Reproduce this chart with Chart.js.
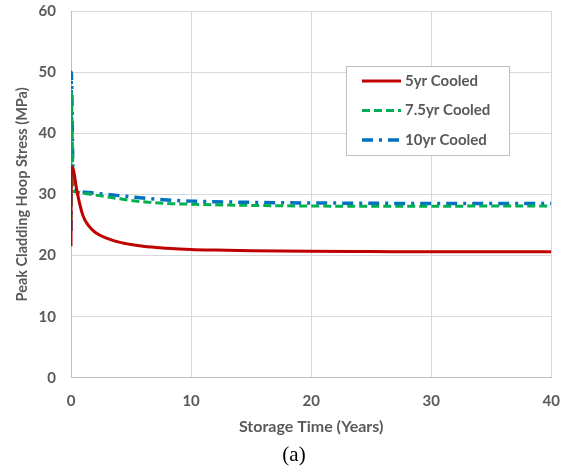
<!DOCTYPE html>
<html>
<head>
<meta charset="utf-8">
<script src="https://cdn.jsdelivr.net/npm/chart.js@4.4.1/dist/chart.umd.min.js"></script>
<style>
  body { margin: 0; background: #fff; }
  #wrap { position: relative; width: 574px; height: 473px; }
</style>
</head>
<body>
<div id="wrap"><canvas id="stress-chart" width="574" height="473"></canvas></div>
<script>
// Storage time (years) shared by all three curves
const timeYears = [0, 0.02, 0.2, 0.5, 1, 1.5, 2, 3, 4, 5, 6, 8, 10, 12, 15, 20, 25, 30, 35, 40];

// Peak cladding hoop stress (MPa)
const cooled5 = [21.5, 34.5, 34.0, 30.5, 26.5, 24.8, 23.8, 22.8, 22.2, 21.8, 21.5, 21.2, 21.0, 20.9, 20.8, 20.7, 20.65, 20.6, 20.6, 20.6];
const cooled75 = [26.0, 47.0, 30.5, 30.4, 30.2, 30.05, 29.9, 29.6, 29.3, 29.0, 28.8, 28.5, 28.4, 28.3, 28.2, 28.1, 28.05, 28.05, 28.1, 28.1];
const cooled10 = [24.0, 50.0, 30.8, 30.6, 30.4, 30.3, 30.2, 30.0, 29.8, 29.6, 29.4, 29.1, 28.9, 28.8, 28.7, 28.6, 28.55, 28.5, 28.5, 28.5];

const seriesLabels = ['5yr Cooled', '7.5yr Cooled', '10yr Cooled'];
const xTicks = [0, 10, 20, 30, 40];
const yTicks = [0, 10, 20, 30, 40, 50, 60];

const textGray = '#595959';
const tickFont = { family: 'Lato', size: 15, weight: 'bold' };

function toPoints(values) {
    return values.map((v, i) => ({ x: timeYears[i], y: v }));
}

// Boxed legend drawn inside the plot, like the original
const boxedLegend = {
    id: 'boxedLegend',
    afterDraw(chart) {
        const ctx = chart.ctx;
        const left = 346, top = 66, width = 163, height = 89;
        ctx.save();
        ctx.fillStyle = '#fff';
        ctx.fillRect(left, top, width, height);
        ctx.strokeStyle = '#bfbfbf';
        ctx.lineWidth = 1;
        ctx.strokeRect(left + 0.5, top + 0.5, width, height);

        chart.data.datasets.forEach((ds, i) => {
            const y = top + 15 + i * 29.5;
            ctx.beginPath();
            ctx.strokeStyle = ds.borderColor;
            ctx.lineWidth = ds.borderWidth;
            ctx.setLineDash(ds.borderDash || []);
            ctx.moveTo(362, y);
            ctx.lineTo(401, y);
            ctx.stroke();
            ctx.setLineDash([]);
            ctx.fillStyle = textGray;
            ctx.font = 'bold 15px Lato';
            ctx.textBaseline = 'middle';
            ctx.fillText(ds.label, 405, y);
        });
        ctx.restore();
    }
};

document.addEventListener('DOMContentLoaded', function() {
    const ctx = document.getElementById('stress-chart').getContext('2d');

    new Chart(ctx, {
        type: 'line',
        data: {
            datasets: [
                {
                    label: seriesLabels[0],
                    data: toPoints(cooled5),
                    borderColor: '#C00000',
                    borderWidth: 3,
                    borderDash: []
                },
                {
                    label: seriesLabels[1],
                    data: toPoints(cooled75),
                    borderColor: '#00B050',
                    borderWidth: 3,
                    borderDash: [8, 4]
                },
                {
                    label: seriesLabels[2],
                    data: toPoints(cooled10),
                    borderColor: '#0070C0',
                    borderWidth: 3.5,
                    borderDash: [11, 6, 3, 6]
                }
            ]
        },
        options: {
            responsive: false,
            animation: false,
            cubicInterpolationMode: 'monotone',
            layout: { padding: { left: 14, right: 0, top: 11, bottom: 0 } },
            elements: { point: { radius: 0 } },
            plugins: {
                legend: { display: false },
                tooltip: { enabled: false },
                title: {
                    display: true,
                    text: '(a)',
                    position: 'bottom',
                    color: '#000',
                    font: { family: 'Liberation Serif', size: 21, weight: 'normal' },
                    padding: { top: 0, bottom: 5 }
                }
            },
            scales: {
                x: {
                    type: 'linear',
                    min: 0,
                    max: 40,
                    afterBuildTicks: axis => { axis.ticks = xTicks.map(v => ({ value: v })); },
                    afterFit: axis => { axis.height = 65; },
                    grid: { color: '#d9d9d9', drawTicks: false, tickLength: 0 },
                    border: { color: '#bfbfbf' },
                    ticks: { color: textGray, font: tickFont, padding: 14, maxRotation: 0 },
                    title: {
                        display: true,
                        text: 'Storage Time (Years)',
                        color: textGray,
                        font: { family: 'Lato', size: 16, weight: 'bold' },
                        padding: { top: 0, bottom: 6 }
                    }
                },
                y: {
                    min: 0,
                    max: 60,
                    afterBuildTicks: axis => { axis.ticks = yTicks.map(v => ({ value: v })); },
                    afterFit: axis => {
                        axis.paddingTop = 0;
                        axis.paddingBottom = 0;
                        axis.width = 57;
                    },
                    grid: { color: '#d9d9d9', drawTicks: false, tickLength: 0 },
                    border: { color: '#bfbfbf' },
                    ticks: { color: textGray, font: tickFont, padding: 15 },
                    title: {
                        display: true,
                        text: 'Peak Cladding Hoop Stress (MPa)',
                        color: textGray,
                        font: { family: 'Lato', size: 14.5, weight: 'bold' },
                        padding: { top: 0, bottom: 0 }
                    }
                }
            }
        },
        plugins: [boxedLegend]
    });
});
</script>
</body>
</html>
